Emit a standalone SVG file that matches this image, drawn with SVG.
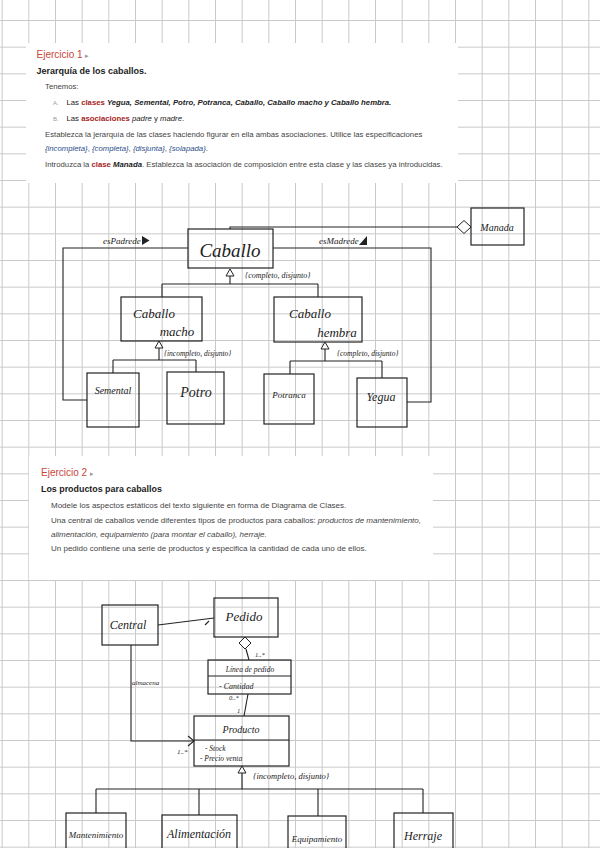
<svg xmlns="http://www.w3.org/2000/svg" width="600" height="848" viewBox="0 0 600 848">
<defs>
<pattern id="grid" patternUnits="userSpaceOnUse" x="1.67" y="20" width="26.667" height="26.667">
<path d="M0 0.5H26.667M0.5 0V26.667" fill="none" stroke="#c9c9c9" stroke-width="1"/>
</pattern>
<style>
.t{font-family:"Liberation Sans",Arial,sans-serif;fill:#444;font-size:7.75px}
.t2{font-size:8px}
.h{font-family:"Liberation Sans",Arial,sans-serif;fill:#c9453a;font-size:10px}
.arr{fill:#999;font-size:7px}
.b{font-weight:bold;fill:#222}
.red{font-weight:bold;fill:#a51d1d}
.i{font-style:italic}
.bl{fill:#2b4e8c;font-style:italic}
.box{fill:none;stroke:#222;stroke-width:1.2}
.ln{fill:none;stroke:#222;stroke-width:1.1}
.tri{fill:#fff;stroke:#222;stroke-width:1}
.hw{font-family:"Liberation Serif","DejaVu Serif",serif;font-style:italic;fill:#222}
</style>
</defs>
<rect width="600" height="848" fill="#fff"/>
<rect width="600" height="848" fill="url(#grid)"/>

<g id="ejercicio1">
<rect x="26" y="43" width="432" height="140" fill="#fff"/>
<text class="h" x="36.5" y="58">Ejercicio 1 <tspan class="arr">▸</tspan></text>
<text class="t b" x="36.5" y="74" style="font-size:9px">Jerarquía de los caballos.</text>
<text class="t" x="45" y="89">Tenemos:</text>
<text class="t" x="53" y="105"><tspan fill="#999" font-size="6px">A.</tspan><tspan x="66.5" fill="#222">Las </tspan><tspan class="red">clases</tspan><tspan class="b i"> Yegua, Semental, Potro, Potranca, Caballo, Caballo macho  y Caballo hembra.</tspan></text>
<text class="t" x="53" y="121"><tspan fill="#999" font-size="6px">B.</tspan><tspan x="66.5" fill="#222">Las </tspan><tspan class="red">asociaciones</tspan><tspan fill="#222"> </tspan><tspan class="i" fill="#222">padre</tspan><tspan fill="#222"> y </tspan><tspan class="i" fill="#222">madre</tspan><tspan fill="#222">.</tspan></text>
<text class="t" x="45" y="136.5">Establezca la jerarquía de las clases haciendo figurar en ella ambas asociaciones. Utilice las especificaciones</text>
<text class="t" x="45" y="151"><tspan class="bl">{incompleta}</tspan>, <tspan class="bl">{completa}</tspan>, <tspan class="bl">{disjunta}</tspan>, <tspan class="bl">{solapada}</tspan>.</text>
<text class="t" x="45" y="166.5">Introduzca la <tspan class="red">clase</tspan> <tspan class="b i">Manada</tspan>. Establezca la asociación de composición entre esta clase y las clases ya introducidas.</text>
</g>

<g id="ejercicio2">
<rect x="29" y="456" width="404" height="124" fill="#fff"/>
<text class="h" x="41" y="475.5">Ejercicio 2 <tspan class="arr">▸</tspan></text>
<text class="t b" x="41" y="492.3" style="font-size:8.9px">Los productos para caballos</text>
<text class="t t2" x="51" y="508.3">Modele los aspectos estáticos del texto siguiente en forma de Diagrama de Clases.</text>
<text class="t t2" x="51" y="522.7">Una central de caballos vende diferentes tipos de productos para caballos: <tspan class="i">productos de mantenimiento,</tspan></text>
<text class="t t2 i" x="51" y="536.7">alimentación, equipamiento (para montar el caballo), herraje.</text>
<text class="t t2" x="51" y="550.5">Un pedido contiene una serie de productos y especifica la cantidad de cada uno de ellos.</text>
</g>

<g id="connectors">
<path class="ln" d="M230 229V227H457"/>
<path class="tri" d="M457 227L464 220.5L471 227L464 233.5Z"/>
<path class="ln" d="M188 248H63V400H87"/>
<text class="hw" x="103" y="244" font-size="9">esPadrede</text>
<path d="M142 236L149.5 240.5L142 245Z" fill="#222"/>
<path class="ln" d="M273 248H431V402H407"/>
<text class="hw" x="319" y="244" font-size="9">esMadrede</text>
<path d="M367 236L367 245L359 245Z" fill="#222"/>
<path class="tri" d="M230 269L234 276H226Z"/>
<path class="ln" d="M230 276V284M162 284H318M162 284V297M318 284V297"/>
<text class="hw" x="245" y="278" font-size="8">{completo, disjunto}</text>
<path class="tri" d="M159 341L163 348H155Z"/>
<path class="ln" d="M159 348V360M113 360H196M113 360V373M196 360V372"/>
<text class="hw" x="164" y="356" font-size="7.5">{incompleto, disjunto}</text>
<path class="tri" d="M325 342L329 349H321Z"/>
<path class="ln" d="M325 349V361M290 361H382M290 361V374M382 361V378"/>
<text class="hw" x="337" y="356" font-size="7.5">{completo, disjunto}</text>

<path class="ln" d="M158 625L214 618"/>
<path class="ln" d="M205 625L209 621" stroke-width="0.9"/>
<path class="tri" d="M245 637L251 643L245 649L239 643Z"/>
<path class="ln" d="M246 649L249 660"/>
<text class="hw" x="255" y="657" font-size="6.5">1..*</text>
<path class="ln" d="M248 694L244 716"/>
<text class="hw" x="229" y="700" font-size="6.5">0..*</text>
<text class="hw" x="237" y="713" font-size="6.5">1</text>
<path class="ln" d="M131 645V741H194"/>
<path class="ln" d="M188 736L194 741L188 746"/>
<text class="hw" x="132" y="685" font-size="7">almacena</text>
<text class="hw" x="177" y="754" font-size="7">1..*</text>
<path class="tri" d="M242 766L246 773H238Z"/>
<path class="ln" d="M242 773V789M96 789H423M96 789V813M199 789V815M318 789V816M423 789V813"/>
<text class="hw" x="253" y="779" font-size="8.5">{incompleto, disjunto}</text>
</g>

<g id="caballo"><rect class="box" x="188" y="229" width="85" height="39"/><text class="hw" x="230" y="257" font-size="19" text-anchor="middle">Caballo</text></g>
<g id="manada"><rect class="box" x="471" y="208" width="53" height="37"/><text class="hw" x="497" y="231" font-size="10" text-anchor="middle">Manada</text></g>
<g id="caballo-macho"><rect class="box" x="121" y="297" width="81" height="44"/><text class="hw" x="154" y="318" font-size="13" text-anchor="middle">Caballo</text><text class="hw" x="177" y="336" font-size="13" text-anchor="middle">macho</text></g>
<g id="caballo-hembra"><rect class="box" x="274" y="297" width="88" height="45"/><text class="hw" x="310" y="318" font-size="13" text-anchor="middle">Caballo</text><text class="hw" x="337" y="337" font-size="13" text-anchor="middle">hembra</text></g>
<g id="semental"><rect class="box" x="87" y="373" width="52" height="54"/><text class="hw" x="113" y="394" font-size="10" text-anchor="middle">Semental</text></g>
<g id="potro"><rect class="box" x="167" y="372" width="57" height="52"/><text class="hw" x="196" y="397" font-size="14" text-anchor="middle">Potro</text></g>
<g id="potranca"><rect class="box" x="264" y="374" width="50" height="50"/><text class="hw" x="289" y="398" font-size="9" text-anchor="middle">Potranca</text></g>
<g id="yegua"><rect class="box" x="357" y="378" width="50" height="49"/><text class="hw" x="381" y="401" font-size="12" text-anchor="middle">Yegua</text></g>

<g id="central"><rect class="box" x="102" y="605" width="56" height="40"/><text class="hw" x="128" y="629" font-size="12" text-anchor="middle">Central</text></g>
<g id="pedido"><rect class="box" x="214" y="598" width="64" height="39"/><text class="hw" x="244" y="621" font-size="13" text-anchor="middle">Pedido</text></g>
<g id="linea-pedido"><rect class="box" x="208" y="660" width="83" height="34"/><path class="ln" d="M208 676H291"/><text class="hw" x="250" y="672" font-size="7.5" text-anchor="middle">Línea de pedido</text><text class="hw" x="219" y="689" font-size="8">-  Cantidad</text></g>
<g id="producto"><rect class="box" x="194" y="716" width="95" height="50"/><path class="ln" d="M194 740H289"/><text class="hw" x="241" y="733" font-size="10" text-anchor="middle">Producto</text><text class="hw" x="205" y="751" font-size="7.5">- Stock</text><text class="hw" x="200" y="761" font-size="7.5">- Precio venta</text></g>
<g id="mantenimiento"><rect class="box" x="66" y="813" width="60" height="45"/><text class="hw" x="96" y="838" font-size="9" text-anchor="middle">Mantenimiento</text></g>
<g id="alimentacion"><rect class="box" x="162" y="815" width="75" height="45"/><text class="hw" x="199" y="838" font-size="12" text-anchor="middle">Alimentación</text></g>
<g id="equipamiento"><rect class="box" x="288" y="816" width="58" height="45"/><text class="hw" x="317" y="842" font-size="9" text-anchor="middle">Equipamiento</text></g>
<g id="herraje"><rect class="box" x="394" y="813" width="59" height="45"/><text class="hw" x="423" y="840" font-size="12" text-anchor="middle">Herraje</text></g>
</svg>
